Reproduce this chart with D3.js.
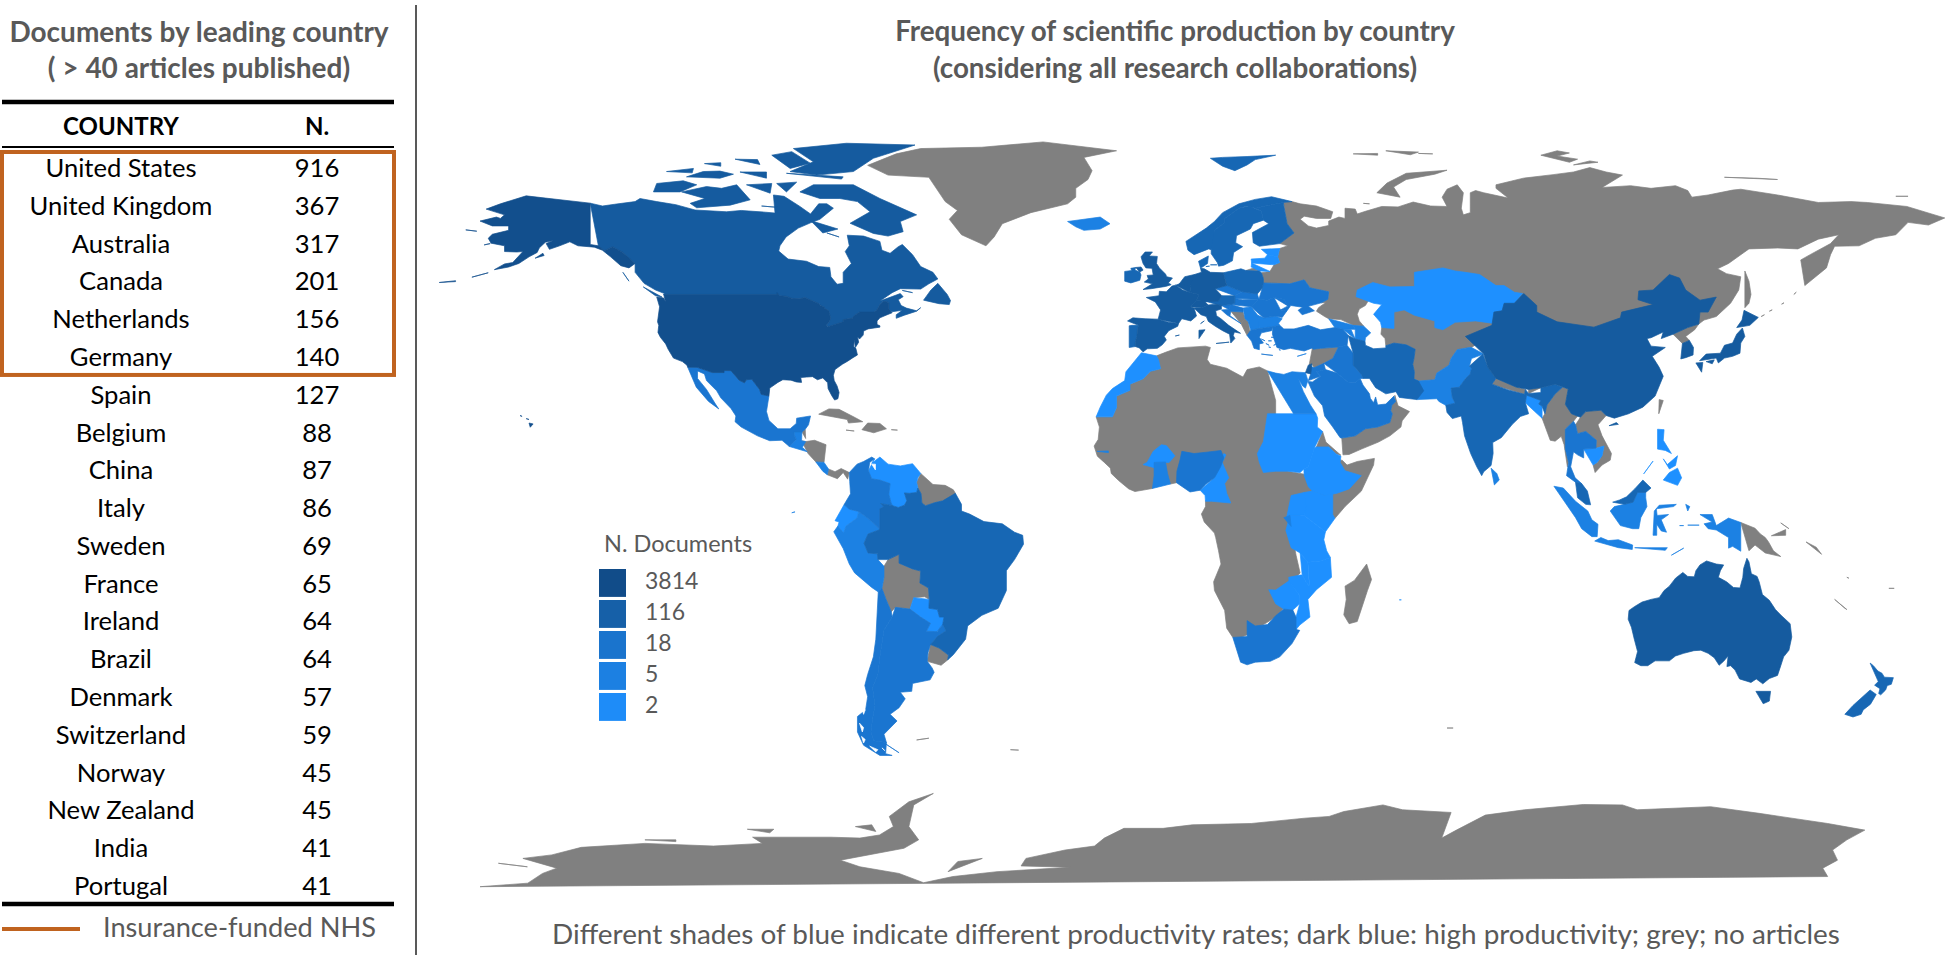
<!DOCTYPE html>
<html>
<head>
<meta charset="utf-8">
<script src="https://cdn.jsdelivr.net/npm/d3@7"></script>
<style>
  body { margin: 0; background: #fff; }
  text { font-family: Lato, "Open Sans", sans-serif; }
</style>
</head>
<body>
<div id="plot"></div>
<script>
// table on the left
const tableCountries = ["United States", "United Kingdom", "Australia", "Canada", "Netherlands", "Germany", "Spain", "Belgium", "China", "Italy", "Sweden", "France", "Ireland", "Brazil", "Denmark", "Switzerland", "Norway", "New Zealand", "India", "Portugal"];
const tableCounts = [916, 367, 317, 201, 156, 140, 127, 88, 87, 86, 69, 65, 64, 64, 57, 59, 45, 45, 41, 41];
const insuranceFundedRows = 6;

// map legend
const legendLabels = ["3814", "116", "18", "5", "2"];
const legendColors = ["#114c89", "#1660a8", "#1a74cd", "#1c80e2", "#1e8cf8"];

// fill of each land group, darkest first
const shadeColors = ["#124f8d", "#155b9f", "#1767b4", "#1a75d0", "#1c81e3", "#1e90ff"];
const noArticles = "#808080";

// outlines below are [lon, lat]
// grey land, no articles
const greyLand = [
  // Russia, Belarus, Central Asia, Mongolia, Afghanistan
  [[28.9,69.8],[31,70],[33,69.5],[37,69],[41,67.7],[40.5,66.2],[37,66.2],[34,66.7],[33,66],[35,64.5],[37,64],[40,64.6],[40,65.6],[42.5,66.5],[44,66.2],[44,68.5],[46.5,68.3],[47,67.2],[49,67.8],[53,68.9],[57,68.8],[60.7,69.9],[65,69],[69,68.9],[67.8,71],[69,72.8],[71.5,73.8],[73,72],[72.5,68.5],[73,67],[74.7,67.5],[74.7,72],[76,72.5],[78,72],[84,70.8],[81,73],[81,73.8],[87.7,75.3],[95,76.1],[100,76.7],[104,77.7],[108,76.7],[112,76],[107,73.2],[114,73.6],[119,73],[125,73.6],[128,72.5],[129,71],[133,71.5],[139,72.6],[141,72.8],[150,71.5],[160,69.8],[168,70],[172,69.8],[181.7,68.9],[191,66.3],[187,64.7],[182,65.3],[179,62.5],[174,61.7],[170,60],[164,59.9],[163,58],[162,55],[156.7,51],[155.7,56.8],[158,58],[163,60.5],[165,62.5],[160,61.5],[155,59.3],[150,59.5],[143,59.3],[138,56],[135.3,54.8],[137.5,53.7],[141,53],[140.5,50],[138.5,47],[135,44],[132,43.2],[130.7,42.3],[125,44],[110,38],[90,38],[80,40],[75,37],[74.5,37],[71.5,36.5],[70,34.5],[69.5,33],[66.5,31.2],[66,29.7],[62,29.4],[60.9,29.8],[61,31.5],[60.6,33.2],[60.9,34.5],[61.2,36.6],[59,37.6],[56,38],[54,37.4],[53.8,39],[52.8,40],[53,41.5],[55,45],[55,47],[50,48],[49,46.5],[47.5,45.7],[47,44.5],[47.5,43],[48.6,41.8],[46,42],[43,43.3],[40,43.5],[39,44],[37,45.2],[37.5,46],[39.3,47.2],[38.2,47.1],[39.8,47.9],[40,49.6],[35.4,50.5],[34,52.3],[30.5,51.4],[24,51.6],[24,52.6],[23.5,53.9],[25.6,54.2],[26.6,55.7],[28,56.2],[27.5,57.5],[28,59.4],[30,60],[28,60.5],[31.5,62.9],[29.8,65],[29,69]],
  [[19.7,54.4],[22.8,54.4],[22,55.1],[20.5,55]],
  [[51.8,72],[54.3,74.2],[59,76.4],[69,77.1],[66,76.2],[59,75],[55.9,73.3],[57.5,71],[54,70.8]],
  [[48.5,69.6],[50,69.5],[49.2,69]],
  [[142,54.3],[143,52],[143.5,49],[143,47],[142,46],[142,50],[141.7,53]],
  [[46,80.8],[52,80.9],[52,80.5],[48,80.4]],
  [[54,81.5],[62,81.2],[60,80.6],[55,80.7]],
  [[62,80.9],[65.5,80.8],[63,80.6]],
  [[92,80.5],[96,81.5],[99,81],[96,80.3],[101,79.6],[99,78.9],[94,79.5]],
  [[100,78.3],[104,79.2],[106,78.9],[103,78.2]],
  [[137,75.5],[145,75.3],[150,75],[140,74]],
  [[179,71.2],[182,71.2],[181,70.8]],
  [[146,44],[146.8,44.4],[146.5,44]],
  [[148,45.2],[148.7,45.5],[148.4,45.1]],
  [[151,46.8],[151.6,47.1],[151.4,46.7]],
  [[154,49],[154.6,49.5],[154.4,49]],
  // Greenland
  [[-73,78.2],[-68,76],[-58,75.5],[-54,70],[-51,68],[-53,66],[-50,62.5],[-44,60],[-42,62],[-40,65],[-33,67.5],[-24,69.5],[-22,71],[-22,73],[-19,75],[-18,77],[-20,80],[-12,81.5],[-30,83.5],[-45,82.3],[-60,82],[-66,80.8],[-72,79]],
  // Central America and Caribbean
  [[-89.1,17.9],[-88.3,18.5],[-88.2,16.4],[-89.2,15.9]],
  [[-89.2,15.9],[-88.2,15.7],[-86,16],[-83.2,15],[-83.7,11],[-85.7,11.1],[-87.6,13],[-89,14.4]],
  [[-82.9,8.2],[-82.6,9.5],[-81,8.9],[-79.5,9.6],[-77.5,8.7],[-77.9,7.2],[-79,8.7],[-80.4,7.3],[-81.7,8]],
  [[-85,21.9],[-82.5,23.1],[-80,23],[-76,21.1],[-74.2,20.2],[-77.7,19.9],[-78,20.7],[-82,22.2]],
  [[-74.4,18.4],[-73,19.9],[-70,19.8],[-68.4,18.6],[-71.5,17.7],[-72.5,18.2]],
  [[-78.3,18.3],[-76.3,18.1],[-77,17.8]],
  [[-67.2,18.4],[-65.7,18.3],[-67.1,18]],
  // South America
  [[-60,8.5],[-57,6],[-54,5.8],[-52,4.8],[-51.5,4],[-52.9,2.2],[-54.6,2.3],[-56.5,1.9],[-58.8,1.2],[-59.7,1.8],[-59.9,3.9],[-60.7,5.2],[-61,6.5],[-60.7,7.5]],
  [[-68,-11],[-65.3,-9.8],[-65.3,-11.8],[-62,-13.1],[-60,-13.6],[-60.2,-16.3],[-58.1,-17.4],[-57.9,-20],[-59,-19.4],[-61.7,-19.6],[-62.6,-22.2],[-64.3,-22],[-66.2,-21.8],[-67.2,-22.8],[-68.5,-20],[-69.5,-17.5],[-69,-15],[-69,-12.5],[-70.5,-11]],
  [[-57.6,-30.2],[-55.5,-31],[-53.2,-32.6],[-53.4,-33.7],[-55,-34.9],[-58.4,-34],[-58.2,-32]],
  [[-61,-51.8],[-58,-51.4],[-59,-52.3]],
  [[-38,-54],[-36,-54.1],[-37,-54.6]],
  // Africa except the shaded countries, which lie on top of it
  [[-2.2,35.1],[0,35.9],[3,36.9],[9.8,37.3],[11,37],[10.2,34.3],[11,33.2],[15,32.3],[19,30.3],[20,32],[23,32.6],[25,31.7],[27,25],[27,12],[30,9],[36,8],[38,10],[42.8,11.5],[43.3,11.5],[44.5,10.4],[47,11.2],[51.2,11.9],[51,10.4],[48,4.5],[44,1],[41.5,-1.7],[38,1],[35,1],[33,-1],[31,-5],[32,-10],[33,-14],[30,-17],[30,-21],[27,-24],[20,-28],[17.5,-29],[16.5,-28.6],[15,-26.5],[14.5,-22.5],[12,-18],[11.8,-16],[13.6,-12],[13,-9],[12.3,-6],[12,-5],[9.5,-2.5],[8.8,-0.7],[9.8,1],[9.8,2.2],[11,4],[13,8],[9,8],[4.4,6.8],[2.7,6.4],[1.2,6.1],[-1,7],[-3.2,5.1],[-7.5,4.4],[-9,5],[-11.5,6.9],[-13.3,8.5],[-13.5,9.7],[-15,11],[-16.7,12.4],[-17.5,14.7],[-16.5,16.2],[-16.2,19],[-17,21.3],[-13,21.3],[-12,23.4],[-12,26],[-8.7,27.3],[-8.7,28.7],[-5.5,29.9],[-3.7,31.6],[-1.2,32.2],[-1.7,34.2]],
  [[38.5,18],[39.3,15.6],[43,12.6],[41.8,12.9],[40,14.5],[37,14.5],[36.5,14.3]],
  [[49.3,-12],[50.5,-15.5],[49.5,-18],[47,-25],[45,-25.5],[43.7,-23.5],[44.3,-20],[44,-17],[46.3,-15.7],[48,-13.5]],
  [[69,-49.1],[70.5,-49.1],[69.8,-49.7]],
  [[31,-26],[32,-26],[32,-27],[31,-27.2]],
  // Middle East
  [[36,36.9],[38,36.8],[42.4,37.1],[41,34.5],[38.8,33.4],[36.4,32.4],[35.9,33.3],[35.2,33],[35.9,35]],
  [[43.2,16.5],[46.5,17],[49,18.6],[52,19],[55,20],[55.6,22],[55.2,22.7],[55.5,24],[56.4,24.7],[56.2,26.2],[57,23.8],[59.8,22.5],[58,20.4],[57.7,19],[55,17],[52.2,15.6],[48,14],[45,12.8],[43.5,12.7],[43,14.5]],
  // Balkans
  [[16,45.2],[19,45],[19.5,43.5],[18.5,42.4],[15.8,44.2]],
  [[18.5,42.4],[19.5,43.5],[20.3,42.8],[20.6,41],[20.9,40.3],[20,39.7],[19.4,41.5]],
  // South and East Asia
  [[80,28.7],[81,30],[86,28],[88.2,27.5],[88,26.4],[84,27.4]],
  [[89,26.6],[89,27.5],[92,27.9],[92,26.8]],
  [[92.3,21],[93,22],[93.5,24],[95.5,26.5],[97.3,28],[98.7,27.6],[98,24.1],[99.5,22],[101,21.5],[100,20.3],[98,18.5],[98.9,16.5],[98,14],[98.8,11],[98.5,10],[97.7,15],[97,16.9],[95.5,15.8],[94.3,16],[94.5,18.5]],
  [[101.7,21.2],[103,22.5],[106.7,22.8],[108,21.6],[106,19.5],[107,17],[109.3,13],[109,11.5],[107,10.4],[105.3,8.7],[104.8,10.4],[105.8,11],[107,12.5],[107.5,14.7],[105.5,14.2],[105.6,16],[103,18],[101,17.5],[100.5,19.5],[101,21.5]],
  [[124.4,40],[128,41.5],[130.7,42.3],[129.7,41],[127.5,39.5],[128.4,38.6],[126.7,37.9],[125,38]],
  [[121,25.2],[122,25],[120.9,22],[120.1,23]],
  [[141,-2.6],[144.5,-3.9],[145.8,-5.2],[147,-6],[147.8,-7],[149,-9],[150.8,-10.3],[147,-9.5],[144.5,-7.7],[143,-9],[141,-9.1]],
  [[148.5,-5.6],[152,-4.2],[152,-5.5],[150,-6.2]],
  [[150.8,-2.7],[152.8,-4],[152.5,-4.5]],
  [[157,-7],[159.5,-8.2],[160.8,-9.8],[158,-8]],
  [[164,-20],[167,-22.3],[166.5,-22],[164.2,-20.5]],
  [[177.3,-17.5],[178.6,-17.5],[178,-18.2]],
  [[167,-15],[167.5,-15.2],[167.2,-16.2]],
  // Antarctica, cut off at the bottom of the map
  [[-168,-85],[-156.3,-84.2],[-152.7,-82],[-149.2,-80.8],[-157.5,-78.6],[-150.4,-77.8],[-143.2,-76.1],[-127.6,-75.2],[-110.8,-75.8],[-98.8,-75.2],[-101.2,-73.8],[-82,-73.8],[-74.9,-74],[-70.1,-73.3],[-66.7,-71.4],[-67.7,-69.1],[-62.9,-65.8],[-56.9,-63.9],[-61.7,-66.5],[-62.9,-71.4],[-60.5,-74.4],[-64.1,-76.3],[-79.7,-79],[-74.9,-80.5],[-65.3,-82],[-59.3,-84.1],[-52.1,-82.7],[-41.3,-81.6],[-23.4,-80.6],[-35.4,-80.3],[-34.2,-78.6],[-24.6,-76.7],[-17.4,-75.8],[-15,-74],[-10.2,-71.8],[-0.6,-71.8],[6.6,-71],[21,-70.7],[34.1,-69.5],[40.1,-69.1],[43.7,-68],[53.3,-66.5],[58.1,-67.6],[70,-68.2],[67.7,-74],[71.3,-72.2],[78.4,-68.8],[88,-67.6],[102.4,-66.4],[112,-66.5],[115.6,-67.6],[133.6,-66.9],[145.5,-68.4],[162.3,-70.7],[171.4,-72.2],[167,-74.4],[163.5,-76.7],[164.7,-79],[161.1,-80.8],[162.3,-82.7],[180,-85]],
  [[-53.3,-81.6],[-50.9,-79.3],[-44.9,-78.6],[-42.5,-80.5]],
  [[-163.5,-79.7],[-156.4,-80.5],[-160,-80.7]],
  [[-76,-71.4],[-72,-71],[-71,-72.5],[-74,-72.5]],
  [[-102.5,-72],[-96,-72],[-97,-72.8],[-102,-72.6]],
  [[-127.6,-74.4],[-120,-74.4],[-120,-74.8],[-126,-74.9]]
];

// shade 0: United States (lower 48, Alaska, Hawaii)
const shade0 = [
  [[-123,49],[-95.2,49],[-95.2,49.4],[-94.6,48.7],[-93,48.6],[-91.5,48.1],[-89.6,48],[-88.4,48.3],[-84.9,46.9],[-84.5,46.5],[-83.6,46.1],[-83.5,45.8],[-82.5,45.3],[-82.1,43.6],[-82.5,42.7],[-83.1,42.1],[-82.7,41.7],[-81,42.2],[-79,42.8],[-79,43.3],[-76.8,43.6],[-76.3,44.2],[-75,45],[-71.5,45],[-70.8,45.4],[-70.3,46.2],[-70,46.7],[-69.2,47.45],[-68.3,47.35],[-67.8,47.07],[-67.8,45.7],[-67.4,45.3],[-67,44.85],[-68.5,44.3],[-70,43.7],[-70.7,43],[-70.7,42.2],[-70,41.9],[-70,41.6],[-71.4,41.4],[-72.9,41.2],[-74,40.7],[-74.1,39.8],[-75,38.9],[-75.5,39.4],[-75.2,38.2],[-76,37],[-76.3,38.8],[-76.4,37.2],[-75.9,36.8],[-75.5,35.3],[-76.6,34.7],[-77.9,33.9],[-79.2,33.2],[-81,32],[-81.4,30.7],[-81.2,29.5],[-80.5,28.3],[-80,26.8],[-80.3,25.4],[-81.1,25.1],[-81.8,26.1],[-82.7,27.7],[-82.8,29],[-84,30.1],[-85.3,29.7],[-86.5,30.4],[-88,30.3],[-89.4,30.2],[-89.2,29.1],[-90.5,29.2],[-91.8,29.6],[-93.8,29.7],[-95,29.1],[-97,27.8],[-97.2,26],[-99.1,26.4],[-99.5,27.5],[-101.4,29.8],[-102.7,29.7],[-103.2,29],[-104.5,29.6],[-106.5,31.75],[-108.2,31.78],[-108.2,31.33],[-111.1,31.33],[-114.8,32.5],[-117.1,32.53],[-117.3,33],[-118.4,33.8],[-120.6,34.6],[-121.9,36.6],[-122.5,37.8],[-123.8,39.3],[-124.4,40.4],[-124.2,42],[-124.5,42.8],[-124,46.2],[-124.7,48.4],[-123,48.2],[-122.5,47.3],[-122.8,49]],
  [[-141,69.65],[-141,60.3],[-139,60],[-137.5,58.9],[-135.5,59.8],[-133,58.5],[-130,56],[-131.5,55],[-133.5,55.5],[-136,57.5],[-138,59],[-140,59.7],[-144,60],[-146,60.9],[-148.5,60],[-151,59.2],[-151.8,60.5],[-150,61.2],[-152,60.8],[-153.5,59.5],[-154,58.5],[-156,57.5],[-158.5,56],[-161,55.2],[-164.5,54.6],[-162,55.9],[-160,56.2],[-157.5,58.7],[-159,58.6],[-162,58.7],[-162,60],[-165.3,60.6],[-166,61.7],[-165,62.6],[-161,63.5],[-161,64.5],[-165,64.5],[-168,65.6],[-164,66.5],[-163,66.2],[-162,67],[-166.5,68.3],[-163,69.5],[-156.7,71.3],[-152,70.8],[-148,70.4]],
  [[-154.5,57.2],[-152.3,57.8],[-152.6,58.3],[-154,57.7]],
  [[-167,60.2],[-165.5,60.5],[-166,59.8]],
  [[-171.5,63.6],[-168.8,63.3],[-170,63.8]],
  [[-170,52.9],[-168,53.4],[-166,53.9],[-166.5,53.4]],
  [[-178,51.7],[-174,52.1],[-174,51.9],[-177.5,51.5]],
  [[-156,19.9],[-155,19.7],[-155.7,18.95],[-156,19.3]],
  [[-156.7,20.9],[-156,20.7],[-156.4,20.6]],
  [[-158.2,21.6],[-157.7,21.4],[-158.1,21.3]]
];

// shade 1: Canada, China, Australia, Japan, S. Korea, W. Europe
const shade1 = [
  // Canada mainland
  [[-141,69.65],[-138,69],[-135,69.4],[-130,70],[-128.8,70.7],[-124.7,70],[-120,69.3],[-115.3,68.1],[-107.6,67.7],[-104,68],[-98,67.6],[-95.7,67.4],[-96.1,71.5],[-93.5,71.2],[-89.6,68.9],[-87,67.2],[-85,69.5],[-83,69.5],[-81.4,68.5],[-84.7,66],[-87,65.2],[-90,64],[-93,62],[-94.5,60],[-94.8,58.8],[-92.5,57],[-88,56.5],[-85,55.3],[-82.3,55.1],[-82,53],[-80.5,51.3],[-79,51.5],[-79,54],[-77,56],[-78.5,58.7],[-77.5,60],[-78,62.4],[-74,62.2],[-70,61],[-69.5,59],[-67.5,58.3],[-65.5,59.8],[-64.5,60.3],[-62,58],[-60,55.3],[-57,54],[-55.8,52.5],[-58,51.4],[-60,50.2],[-65,50.3],[-67,49.4],[-70,47.5],[-65,49.2],[-64.3,48.5],[-65.5,47.8],[-64.8,46.5],[-63.5,45.9],[-61,45.3],[-60,46],[-61,45.2],[-64,44.3],[-66,43.6],[-66,44.4],[-64.5,45.4],[-67,45.1],[-67.4,45.3],[-67.8,45.7],[-67.8,47.07],[-68.3,47.35],[-69.2,47.45],[-70,46.7],[-70.3,46.2],[-70.8,45.4],[-71.5,45],[-75,45],[-76.3,44.2],[-76.8,43.6],[-79,43.3],[-79,42.8],[-81,42.2],[-82.7,41.7],[-83.1,42.1],[-82.5,42.7],[-82.1,43.6],[-82.5,45.3],[-83.5,45.8],[-83.6,46.1],[-84.5,46.5],[-84.9,46.9],[-88.4,48.3],[-89.6,48],[-91.5,48.1],[-93,48.6],[-94.6,48.7],[-95.2,49.4],[-95.2,49],[-123,49],[-122.8,49.2],[-125,50],[-127.8,51.5],[-130,54],[-130,56],[-133,58.5],[-135.5,59.8],[-137.5,58.9],[-139,60],[-141,60.3]],
  // Canadian Arctic islands and coast islands
  [[-89.6,72.2],[-86.3,73.8],[-76.5,73.8],[-70,70.7],[-61,67],[-65,65.5],[-64.3,63.2],[-68,62.2],[-71.6,62.8],[-77.3,65.1],[-72.4,67.7],[-75.5,70],[-79.8,70.7],[-84.7,70.7],[-85,71.5]],
  [[-118.6,72.2],[-112.5,73.4],[-108.8,73],[-105.1,73.8],[-101.8,70.4],[-106.7,69.2],[-114.9,68.6],[-116.5,69.6],[-112.9,70.7],[-118.2,70.9]],
  [[-125.5,72.2],[-124.7,74.1],[-118.2,74.7],[-114.9,73.8],[-119,72.2],[-123,71.6]],
  [[-91.2,82],[-78.2,83.2],[-61.4,82.8],[-71.6,79.8],[-76.5,76.8],[-85.5,76],[-92,76.8],[-86.3,79],[-90.4,80.9]],
  [[-92.9,76.4],[-79,75.6],[-79.4,75.1],[-92.9,74.9]],
  [[-96.5,80.5],[-91.6,81.3],[-87.1,78.7],[-92,77.5],[-96.1,78.3]],
  [[-117.4,75.6],[-113.3,76.8],[-109.2,76.9],[-105.9,76.2],[-109.2,75.3],[-114.1,75]],
  [[-122.3,76.8],[-115.7,77.5],[-116,76.5],[-119,76.2]],
  [[-104.3,76.7],[-97.8,76.7],[-97.8,75.3],[-103,75.3]],
  [[-102.7,73.8],[-96.5,74.1],[-96.9,71.9],[-100.2,71.9]],
  [[-95.3,74.1],[-90.4,74.4],[-92.9,72.2],[-95.7,72.2]],
  [[-113,78.6],[-109,78.8],[-109,78],[-112,78]],
  [[-105.5,79.6],[-100,79.5],[-99.4,78.4],[-103,78.2]],
  [[-99,69],[-95,68.7],[-95.5,69.8]],
  [[-87,65.7],[-84,62.9],[-80.3,63.8],[-85,66.2]],
  [[-83,62.9],[-80,62],[-82,62.5]],
  [[-59.3,47.7],[-55.5,46.9],[-53,46.7],[-52.7,47.6],[-53.5,49],[-55.8,51.5],[-57.5,50],[-59,48.5]],
  [[-128,50.7],[-125,48.7],[-123.4,48.4],[-125,50]],
  [[-133,54],[-131.5,52],[-132,54]],
  [[-64.5,49.9],[-62,49.4],[-63,49.2]],
  // China
  [[73.5,39.5],[80,42],[80.5,45],[82.5,45.3],[83,47],[85.5,47],[87.8,49.2],[91,46.5],[91,45],[96,42.8],[105,41.6],[111.5,43.7],[111.8,45],[119.5,46.7],[115.8,47.8],[116,49.8],[119.5,50],[123.5,53.5],[126,52.7],[127.5,50],[131,47.7],[135,48.4],[133,45],[131,45],[130.7,42.3],[128,41.5],[124.4,40],[121.5,39],[122,40.5],[119,39.2],[118,39],[119,37.3],[122.5,37],[119.3,35],[121,32.5],[122,30.5],[120,26],[117,23.5],[113.5,22],[110,21],[108,21.6],[106.7,22.8],[103,22.5],[101.7,21.2],[99.5,22],[98,24.1],[98.7,27.6],[95.5,28.7],[92,27.9],[89,27.5],[86,28],[81,30],[79,32.5],[78,35.5],[75,37]],
  [[108.7,19.3],[110.5,20],[111,19.6],[109.5,18.2]],
  // Japan
  [[130.9,34],[132.5,35.5],[136,35.7],[137,37.5],[139,38],[140,40],[141.4,41.4],[142,39.5],[141,38],[140.8,35.7],[139,35],[137,34.6],[135.5,33.5],[135,34.6],[132,33.9]],
  [[130,33.5],[131.7,33.6],[131.4,31.4],[130.3,31.2]],
  [[132.5,33.8],[134.5,34.2],[134,33.3],[132.9,32.8]],
  [[140,41.5],[141.3,43.2],[141.8,45.4],[145.3,43.8],[143.2,42],[141,42.4]],
  // South Korea
  [[126.7,37.9],[128.4,38.6],[129.4,37],[129.3,35.3],[127.5,34.7],[126.3,34.4],[126.6,37]],
  // Australia
  [[113.6,-22.5],[113.4,-24.5],[114.2,-26.3],[114.9,-29],[115.7,-31.8],[115,-34.3],[116.5,-35],[118.2,-35],[120,-33.9],[123.5,-33.9],[125,-32.8],[127,-32.2],[129.5,-31.6],[131.2,-31.5],[133,-32.2],[134.5,-33.2],[135.7,-34.9],[136.8,-34],[137.9,-32.8],[137.6,-35.2],[138.5,-35],[139.6,-36],[140.7,-38],[142.5,-38.5],[143.5,-38.8],[144.8,-38],[146.4,-39.1],[148,-37.9],[150,-37.2],[150.8,-35],[151.5,-33],[152.8,-31.5],[153.5,-28.5],[153.1,-25.5],[151,-23.7],[149.5,-22.3],[148,-20.2],[146.3,-18.9],[145.5,-16],[145,-14.8],[143.6,-14.2],[143,-11.5],[142.5,-10.7],[141.7,-13],[141.5,-15],[140.8,-17.4],[139.2,-17.3],[137.5,-16],[135.5,-15],[136,-13.5],[136.8,-12.2],[135,-12],[132.6,-11.3],[131,-12.2],[130,-13.5],[129.6,-14.9],[128,-14.8],[126.8,-13.9],[125,-15.2],[123.5,-17],[122.2,-18],[121,-19.6],[119,-20],[116.8,-20.6],[115,-21.6],[114.2,-22.4]],
  [[144.7,-40.8],[148.3,-40.8],[148,-43],[146.5,-43.6],[145.3,-42.5]],
  // United Kingdom
  [[-5.5,50.1],[-3.5,50.3],[0,50.8],[1.4,51.2],[0.7,51.6],[1.7,52.7],[0.3,53],[0,53.6],[-1.5,55],[-2.2,56],[-2,57.6],[-4,57.7],[-3.2,58.6],[-5,58.6],[-6,57.5],[-5.5,56],[-4.8,55],[-3.3,54.9],[-3,53.4],[-4.5,53.3],[-4.2,52.5],[-5.2,51.8],[-3.2,51.4],[-4.5,51]],
  [[-7.3,55.1],[-6,55.2],[-5.5,54.5],[-6.3,54.1],[-7.5,54.5]],
  // Spain, France, Belgium, Netherlands, Germany, Switzerland, Italy
  [[-9.3,43],[-8,43.7],[-5,43.5],[-1.8,43.4],[0.7,42.7],[3.2,42.4],[3,41.8],[0.8,40.8],[-0.3,39.5],[0.2,38.7],[-0.8,37.6],[-2,36.8],[-4.5,36.7],[-5.5,36],[-6.4,36.9],[-7.4,37.2],[-7.4,38.2],[-7,39.6],[-6.9,41],[-6.6,42],[-8.2,42]],
  [[2.4,39.6],[3.4,39.8],[3,39.3]],
  [[-1.8,43.4],[-1.2,45.5],[-2.5,47.3],[-4.7,48.3],[-1.6,48.7],[-1.5,49.7],[0.2,49.6],[1.6,50.9],[2.5,51.1],[4.2,50],[5.8,49.5],[8.2,49],[7.6,47.6],[6,46.2],[7,45.9],[7.6,44.1],[6.2,43],[4,43.5],[3.2,42.4],[0.7,42.7]],
  [[8.6,42.4],[9.5,43],[9.4,41.4]],
  [[2.5,51.1],[3.4,51.4],[5.8,51.3],[6,50.8],[6.1,50],[5.8,49.5],[4.2,50]],
  [[3.4,51.4],[4.7,53],[7.1,53.5],[7,52.2],[6,50.8],[5.8,51.3]],
  [[7.1,53.5],[8.8,54],[8.6,54.9],[9.5,54.8],[11,54],[14.2,53.9],[14.7,52],[15,51],[12.2,50.3],[13.8,48.7],[13,47.5],[10,47.4],[7.6,47.6],[8.2,49],[5.8,49.5],[6.1,50],[6,50.8],[7,52.2]],
  [[6,46.2],[7.6,47.6],[9.6,47.5],[10.4,46.6],[9,45.9],[7,45.9]],
  [[7,45.9],[9,45.9],[10.4,46.6],[12.3,46.8],[13.7,46.5],[13.7,45.7],[12.3,45.3],[12.5,44.2],[13.6,43.5],[15.5,42],[18.4,40.2],[16.9,40.5],[16.6,39.7],[17,39],[16,38],[15.7,40],[14,40.8],[12.2,41.8],[10.5,42.9],[10,44],[8.7,44.4],[7.6,44.1]],
  [[8.2,39],[8.2,40.9],[9.7,41],[9.6,39.1]],
  [[12.4,37.9],[15.6,38.2],[15,36.7]],
  // Israel
  [[34.3,31.3],[35,33],[35.9,33.3],[35.6,31],[35,29.5]]
];

// shade 2: Brazil, India, Iran, Nordics, Poland, Austria, Ireland, Portugal, Malaysia, New Zealand
const shade2 = [
  [[-51.5,4],[-50,1.5],[-50,0],[-48,-0.7],[-44.5,-2.4],[-40,-2.9],[-37,-4.8],[-35,-5.5],[-34.8,-7.5],[-37,-11],[-39,-13.5],[-39,-18],[-41,-22],[-45,-23.6],[-48.5,-26],[-49,-29],[-52,-32.5],[-53.4,-33.7],[-53.2,-32.6],[-55.5,-31],[-57.6,-30.2],[-55.8,-28.3],[-53.8,-27.1],[-54.6,-25.6],[-54.3,-24],[-55.4,-24],[-55.9,-22.3],[-58,-22],[-57.9,-20],[-58.1,-17.4],[-60.2,-16.3],[-60,-13.6],[-62,-13.1],[-65.3,-11.8],[-65.3,-9.8],[-68,-11],[-70.5,-11],[-70.6,-9.7],[-72.9,-9.5],[-73.9,-7.3],[-72.9,-5.2],[-70,-4.2],[-70,0.5],[-69.1,1],[-69.8,1.7],[-66.9,1.2],[-65.5,0.8],[-64,1.3],[-63.4,2.3],[-64,4.1],[-62.8,4],[-61,4.2],[-60.7,5.2],[-59.9,3.9],[-59.7,1.8],[-58.8,1.2],[-56.5,1.9],[-54.6,2.3],[-52.9,2.2]],
  [[77.8,35.5],[79,32.5],[81,30],[80,28.7],[84,27.4],[88,26.4],[88.2,27.5],[89,26.6],[92,26.8],[92,27.9],[95.5,28.7],[97.3,28],[95.5,26.5],[93.5,24],[93,22],[92.3,23.7],[91.5,24.2],[92,25],[88.5,26.2],[88.2,24.5],[89,22],[87,21.4],[85,19.6],[82.3,16.6],[80.2,15.5],[80.3,13],[79.8,10.3],[78,8.9],[77.5,8],[76.3,10],[74.8,13],[73.3,17],[72.8,20],[72.5,21.5],[70.3,20.9],[69,22.3],[68.7,23.9],[71,24.4],[70.3,25.7],[70,27.8],[72,28],[73.5,29.9],[74.7,31],[75,32.3],[74.5,32.8],[75,34.5]],
  [[44.8,39.7],[46.5,38.9],[48.9,38.4],[49,37.5],[51,36.7],[54,36.9],[54,37.4],[56,38],[59,37.6],[61.2,36.6],[60.9,34.5],[60.6,33.2],[61,31.5],[60.9,29.8],[62,29.4],[63.3,27.2],[61.6,25.2],[57.3,25.7],[56.5,27],[54,26.5],[51.5,27.9],[50,30],[48.5,30],[48,30.9],[46,33],[46,35.7],[44.5,37.5]],
  // Ireland, Portugal, Denmark
  [[-10,52],[-8.5,51.6],[-6.3,52.2],[-6,53.4],[-6.3,54.1],[-7.5,54.5],[-7.3,55.1],[-8.5,54.9],[-8.3,54.4],[-10,54.2],[-9.5,53.2]],
  [[-8.9,41.9],[-8.2,42],[-6.6,42],[-6.9,41],[-7,39.6],[-7.4,38.2],[-7.4,37.2],[-8.9,37],[-9.5,38.7]],
  [[8.6,54.9],[8.1,56.5],[10.5,57.7],[10.3,56],[9.5,54.8]],
  [[11,55.7],[12.6,55.7],[12,54.8]],
  [[9.9,55.3],[10.8,55.4],[10.5,55]],
  // Norway with Svalbard, Sweden, Finland
  [[5,61],[5.5,59],[7,58],[10.6,59.3],[11.2,59.1],[12.3,61],[12,63.5],[14.5,65.2],[14.5,66.2],[18,68.5],[20,69],[22,68.5],[25,69.1],[28.9,69.8],[31,70],[26,71.1],[22,70.5],[18,69.5],[14,67.5],[12,65.5],[10,64],[6,62.5]],
  [[11,79.8],[14,80],[20,80.2],[27,80.5],[22,79.5],[20,78.3],[17,77],[14,78],[12,79]],
  [[11.2,59.1],[11.2,58.2],[12.7,56.2],[13,55.4],[14.3,55.6],[16.4,56.6],[16.7,58.5],[18.9,59.8],[17.2,60.7],[17.4,62.3],[20.8,63.8],[21.5,65],[24,65.8],[23.5,67.8],[20.5,69],[18,68.5],[14.5,66.2],[14.5,65.2],[12,63.5],[12.3,61]],
  [[23.5,67.8],[24,65.8],[25.3,65],[21.3,63],[21.5,60.7],[23,59.9],[28,60.5],[31.5,62.9],[29.8,65],[29,69],[28.9,69.8],[25,69.1],[22,68.5],[20.5,69]],
  // Poland, Austria
  [[14.2,53.9],[18.5,54.8],[19.7,54.4],[23,54.3],[23.5,53.9],[24,52.6],[24,51.6],[23.7,50.4],[22.5,49.1],[18.8,49.6],[15,51],[14.7,52]],
  [[9.6,47.5],[13,47.5],[13.8,48.7],[17,48.7],[17,47],[16,46.7],[13.7,46.5],[12.3,46.8],[10.4,46.6]],
  // Malaysia
  [[100.5,6.5],[102,6.2],[103.4,4.5],[104.2,1.4],[103,1.5],[101,3],[100.3,5.5]],
  [[109.6,2],[111.3,2.5],[113,3.2],[115,5],[117,7],[119,5.2],[117.7,4.2],[115.7,4.2],[114.6,2],[112.5,1.5],[110,1]],
  // New Zealand
  [[172.7,-34.4],[173.5,-35],[174.6,-36.2],[175.6,-36.7],[176.2,-37.6],[178.4,-37.7],[177.9,-39.2],[176.9,-39.5],[176.5,-40.5],[175.3,-41.6],[174.8,-41.3],[175.1,-40.2],[173.8,-39.4],[174.7,-38.6],[174.8,-37.2]],
  [[172.7,-40.5],[174.2,-41.5],[172.8,-43.7],[171,-45],[170.5,-46],[168.5,-46.6],[166.5,-46],[168.5,-44],[171.2,-42]]
];

// shade 3: Mexico, Colombia, Argentina, Chile, Saudi Arabia, Turkey, E. Europe, South Africa, Nigeria, Thailand
const shade3 = [
  [[-117.1,32.53],[-114.8,32.5],[-111.1,31.33],[-108.2,31.33],[-108.2,31.78],[-106.5,31.75],[-104.5,29.6],[-103.2,29],[-102.7,29.7],[-101.4,29.8],[-99.5,27.5],[-99.1,26.4],[-97.2,26],[-97.8,22.5],[-97.2,20.5],[-95,18.6],[-92,18.6],[-90.5,19.8],[-90.4,21],[-87,21.5],[-87.5,19.5],[-88.3,18.5],[-89.1,17.9],[-91,17.9],[-91,17.2],[-90.5,16.2],[-92.2,14.6],[-94,16],[-97,15.9],[-100,17],[-104,19],[-105.5,20.2],[-105.3,21.5],[-106.5,23.2],[-109,25.6],[-110,27.2],[-112.5,29.5],[-113,31],[-114.7,31.7],[-114.7,30],[-112.5,27.5],[-110.3,24.2],[-109.5,23.1],[-112,24.8],[-115,28],[-116,30.5]],
  // Colombia
  [[-77.5,8.7],[-75.6,10.6],[-74,11.2],[-72,12.2],[-71.3,11.8],[-72.5,11],[-72.8,9.1],[-72,7.3],[-70,7],[-67.5,6.2],[-67.8,3.8],[-67.3,2],[-66.9,1.2],[-69.8,1.7],[-69.1,1],[-70,0.5],[-70,-4.2],[-72,-2.4],[-73.6,-1.2],[-75.2,-0.1],[-77.5,0.4],[-78.8,1.4],[-77.2,3.9],[-77.4,6.7],[-77.9,7.2]],
  // Argentina, Tierra del Fuego, Chile
  [[-66.2,-21.8],[-64.3,-22],[-62.6,-22.2],[-60,-24],[-57.6,-25.4],[-58.6,-27.2],[-56,-27.3],[-54.6,-25.6],[-53.8,-27.1],[-55.8,-28.3],[-57.6,-30.2],[-58.2,-32],[-58.4,-34],[-57.2,-35.5],[-56.7,-36.5],[-57.7,-38.2],[-62,-39],[-62.2,-40.8],[-65,-41],[-63.8,-42.5],[-65.3,-44.5],[-67.5,-46],[-65.8,-47.5],[-69,-50.5],[-68.4,-52.4],[-71.5,-52],[-72.2,-50],[-71.8,-47],[-71.2,-44],[-71.8,-40],[-70.5,-37],[-70,-33],[-69,-27],[-67,-24],[-67.2,-22.8]],
  [[-68.6,-52.7],[-65.3,-54.7],[-68.6,-54.9]],
  [[-70.4,-18.3],[-69.5,-17.5],[-68.5,-20],[-67.2,-22.8],[-67,-24],[-69,-27],[-70,-33],[-70.5,-37],[-71.8,-40],[-71.2,-44],[-71.8,-47],[-72.2,-50],[-71.5,-52],[-68.4,-52.4],[-68.6,-54.9],[-67,-55.3],[-70,-55.3],[-74,-53],[-75.5,-50],[-75.5,-46.5],[-73.5,-45],[-73,-42],[-73.7,-39.5],[-73,-37],[-71.6,-33],[-71,-29],[-70.4,-23]],
  // Czechia, Slovakia, Slovenia, Hungary, Croatia, Romania, Moldova, Greece, Ukraine
  [[12.2,50.3],[15,51],[18.8,49.6],[17,48.7],[13.8,48.7]],
  [[17,48.1],[17,48.7],[18.8,49.6],[22.5,49.1],[22.9,47.9],[18.8,47.8]],
  [[13.7,46.5],[16,46.7],[15.5,45.6],[13.7,45.5]],
  [[16,46.7],[17,47],[17,48.1],[18.8,47.8],[22.9,47.9],[21,46.2],[19,45.9]],
  [[13.7,45.5],[15.5,45.6],[16,46.7],[19,45.9],[19,45],[16,45.2],[15.8,44.2],[18.5,42.4],[15,44.4],[14.3,45.3]],
  [[21,46.2],[22.9,47.9],[24.9,47.7],[26.6,48.3],[28.2,45.5],[29.7,45.2],[28.6,43.8],[27,44.1],[24,43.7],[22.6,44.3]],
  [[26.6,48.3],[29,47.9],[30,46.4],[28.2,45.5]],
  [[20,39.7],[20.9,40.9],[23,41.3],[24,41.4],[26.3,41.7],[26,40.8],[23.5,40.3],[23,39.3],[24,38],[23,37.8],[23,36.5],[21.7,36.8],[21.1,38.4],[20.2,39.5]],
  [[23.5,35.5],[26.3,35.2],[24.5,34.9]],
  // Aegean islands
  [[25.9,39.3],[26.6,39.3],[26.2,39]],
  [[25.2,38.5],[26,38.5],[25.9,38.2]],
  [[24.6,37.9],[25.4,37.5],[24.9,37.4]],
  [[25.3,37.1],[25.8,37],[25.5,36.7]],
  [[26.5,37.5],[27,37.7],[26.9,37.3]],
  [[27.8,36.5],[28.2,36.4],[27.9,36]],
  [[23.5,38.9],[24.4,38.5],[24.1,38.2]],
  [[23.7,50.4],[24,51.6],[30.5,51.4],[34,52.3],[35.4,50.5],[40,49.6],[39.8,47.9],[38.2,47.1],[35,46.3],[36.5,45.3],[33.5,44.4],[32.5,45.4],[33.6,46.1],[30.7,46.5],[29.7,45.2],[28.2,45.5],[30,46.4],[29,47.9],[26.6,48.3],[24.9,47.7],[22.9,47.9],[22.5,49.1]],
  // Turkey
  [[26.2,40],[26.3,41.7],[28,42],[29,41.2],[31.5,41.2],[35,42],[38,41],[41.5,41.5],[43.5,41.1],[44.8,39.7],[44.5,37.5],[42.4,37.1],[38,36.8],[36.2,36.6],[36,36.9],[34,36.2],[30.6,36.8],[29,36.5],[27.3,37],[26.3,38.3]],
  // Jordan, Iraq, Saudi Arabia and the Gulf
  [[35,29.5],[35.6,31],[35.7,32.7],[36.4,32.4],[38.8,33.4],[39.2,32],[37,31.5],[38,30.5],[36,29.2]],
  [[38.8,33.4],[41,34.5],[42.4,37.1],[44.5,37.5],[46,35.7],[46,33],[48,30.9],[48.5,30],[47.7,30],[46.5,29.1],[44.7,29.2],[42,31.2],[39.2,32]],
  [[34.9,29.3],[36,29.2],[38,30.5],[37,31.5],[39.2,32],[42,31.2],[44.7,29.2],[46.5,29.1],[47.7,30],[48.4,28.5],[50,26.5],[50.2,25.5],[51,24.5],[51.5,25.8],[52,24],[54,24.2],[56,26],[56.4,24.7],[55.5,24],[55.2,22.7],[55.6,22],[55,20],[52,19],[49,18.6],[46.5,17],[43.2,16.5],[42.8,16.6],[41,19],[39,21.5],[38.5,23.8],[36.5,26],[35,28]],
  // South Africa, Nigeria, Thailand
  [[16.5,-28.6],[20,-28.4],[20,-24.8],[22,-26],[25,-25.7],[27,-23.7],[29,-22.2],[31.2,-22.4],[32,-24],[32,-26.8],[32.9,-27],[31,-30],[28,-33],[25.7,-34],[22,-34.2],[20,-34.8],[18.4,-34.2],[18,-32]],
  [[2.7,6.4],[2.8,9],[3.6,11.7],[4,13.5],[7,13],[10,13.3],[13.6,13.7],[14.3,12],[13.5,10],[12,7.5],[9.8,6],[8.5,4.7],[6,4.3],[4.4,6.3]],
  [[98,18.5],[100,20.3],[100.5,19.5],[101,17.5],[103,18],[105.6,16],[105.5,14.2],[102.5,14],[102.5,12],[101,12.7],[100,13.4],[99.3,10],[100.4,7.5],[102,6.2],[100.5,6.5],[98.3,8],[98.8,11],[98,14],[98.9,16.5]]
];

// shade 4: Guatemala, Costa Rica, Peru, Iceland, Egypt, Pakistan, Indonesia and others
const shade4 = [
  [[-92.2,14.6],[-90.5,16.2],[-91,17.2],[-91,17.9],[-89.1,17.9],[-89.2,15.9],[-88.2,15.7],[-89,14.4],[-87.8,13.4],[-90,13.7]],
  [[-85.7,11.1],[-83.7,11],[-82.6,9.5],[-82.9,8.2],[-84,9],[-85.8,9.9]],
  [[-81.3,-4.7],[-80.3,-3.4],[-78.9,-5],[-78.3,-3.4],[-75.6,-1.6],[-75.2,-0.1],[-73.6,-1.2],[-72,-2.4],[-70,-4.2],[-72.9,-5.2],[-73.9,-7.3],[-72.9,-9.5],[-70.6,-9.7],[-70.5,-11],[-69,-12.5],[-69,-15],[-69.5,-17.5],[-70.4,-18.3],[-72,-17.3],[-76.2,-14],[-77.5,-12],[-79,-8.5],[-81,-6]],
  [[-91.6,-0.4],[-90.8,-0.2],[-91.2,-1]],
  [[-24,65.5],[-22,64.3],[-20,63.5],[-16,63.8],[-13.6,65],[-16,66.5],[-21,65.7]],
  // Serbia, Bulgaria, Georgia, Armenia, Azerbaijan, Cyprus
  [[19,45.9],[21,46.2],[22.6,44.3],[23,43],[23,41.3],[20.9,40.9],[20.3,42.8],[19.5,43.5],[19,45]],
  [[22.6,44.3],[24,43.7],[27,44.1],[28.6,43.5],[27.7,42.5],[28,42],[26.3,41.7],[24,41.4],[23,41.3],[23,43]],
  [[40,43.5],[41.5,41.5],[43.5,41.1],[46.5,41.1],[46,42],[43,43.3]],
  [[43.5,41.1],[45.5,41],[46.5,38.9],[44.8,39.7]],
  [[46.5,41.1],[46,42],[48.6,41.8],[50.3,40.3],[49,39.2],[48.9,38.4],[46.5,38.9],[45.5,41]],
  [[32.3,35],[34.5,35.6],[33.5,34.7]],
  // Egypt, Ghana, Gambia, Rwanda and Burundi
  [[25,31.7],[27,31.2],[29,30.9],[31,31.5],[34.3,31.3],[34.9,29.5],[34.3,27.8],[33.6,28.3],[32.6,29.9],[33.8,27],[35.5,24],[36.9,22],[31.4,22],[25,22]],
  [[-3.2,5.1],[-2.8,8],[-2.8,11],[0,11.1],[0.5,8.5],[1.2,6.1],[-1,5.1]],
  [[-16.8,13.5],[-14,13.6],[-14,13.2],[-16.8,13.1]],
  [[29,-1.5],[30.5,-1],[30.8,-3.5],[29.5,-4.4]],
  // Pakistan, Sri Lanka
  [[60.9,29.8],[62,29.4],[66,29.7],[66.5,31.2],[69.5,33],[70,34.5],[71.5,36.5],[74.5,37],[75,37],[78,35.5],[75,34.5],[74.5,32.8],[75,32.3],[74.7,31],[73.5,29.9],[72,28],[70,27.8],[70.3,25.7],[71,24.4],[68.7,23.9],[67,24.8],[66.5,25.4],[61.6,25.2],[63.3,27.2]],
  [[79.8,9.7],[81.2,8.5],[81.8,7],[80.6,5.9],[79.9,6.9]],
  // Indonesia
  [[109,0],[110,1],[112.5,1.5],[114.6,2],[115.7,4.2],[117.7,4.2],[117.7,3],[118,1],[116.5,-1.5],[116,-4],[114.5,-4],[111.5,-3.3],[110,-1.5]],
  [[95.2,5.6],[97.5,5.2],[100.5,2.2],[103.5,0],[104.5,-2],[106,-3],[105.8,-5.8],[104.5,-5.8],[102,-4],[100.5,-1.5],[98.7,1.7]],
  [[105.2,-6.8],[106.7,-6],[108.5,-6.7],[111,-6.5],[114.5,-7.7],[114.4,-8.7],[111,-8.3],[108,-7.8]],
  [[119.5,-5.5],[120.4,-5.5],[120.4,-3],[121.5,-4.5],[122.8,-4.8],[121.5,-2],[123.3,-0.8],[120.5,-1],[120.3,0.5],[124.5,1],[125.2,1.5],[121,1.3],[119.8,0],[118.9,-3]],
  [[115,-8.3],[119,-8.3],[123,-8.3],[122.5,-8.9],[116,-8.9]],
  [[124,-10],[127,-8.4],[125,-9.2]],
  [[131,-0.8],[134,-0.8],[135,-3.3],[138,-1.6],[141,-2.6],[141,-9.1],[139,-8],[138,-8.4],[138,-6],[135,-4.3],[133,-4],[132,-2.9],[134,-2.5],[132,-2]],
  [[127.5,1.5],[128.5,1],[128,0],[127.8,0.8]],
  [[128,-3.2],[130.8,-3.2],[129.5,-3.4]],
  [[126,-3.3],[127,-3.3],[126.5,-3.6]]
];

// shade 5: Venezuela, Ecuador, Paraguay, Baltics, Kazakhstan, Morocco, East Africa, Bangladesh, Cambodia, Philippines
const shade5 = [
  [[-71.3,11.8],[-72,10.8],[-70,12.2],[-68,10.6],[-65,10.2],[-62,10.7],[-60.8,9.4],[-60,8.5],[-60.7,7.5],[-61,6.5],[-60.7,5.2],[-61,4.2],[-62.8,4],[-64,4.1],[-63.4,2.3],[-64,1.3],[-65.5,0.8],[-66.9,1.2],[-67.3,2],[-67.8,3.8],[-67.5,6.2],[-70,7],[-72,7.3],[-72.8,9.1],[-72.5,11]],
  [[-78.8,1.4],[-77.5,0.4],[-75.2,-0.1],[-75.6,-1.6],[-78.3,-3.4],[-78.9,-5],[-80.3,-3.4],[-80,-2.5],[-81,-2.2],[-80,0.7]],
  [[-57.9,-20],[-58,-22],[-55.9,-22.3],[-55.4,-24],[-54.3,-24],[-54.6,-25.6],[-56,-27.3],[-58.6,-27.2],[-57.6,-25.4],[-60,-24],[-62.6,-22.2],[-61.7,-19.6],[-59,-19.4]],
  // Estonia, Latvia, Lithuania
  [[23.5,59.2],[28,59.4],[27.5,57.5],[25,58],[24.3,58.3]],
  [[21,57],[21.1,56.1],[26.6,55.7],[28,56.2],[27.5,57.5],[25,58],[24.3,57.2],[22.6,57.7]],
  [[21.1,56.1],[21,55.2],[23,54.3],[25.6,54.2],[26.6,55.7]],
  // Kazakhstan
  [[46.7,48.5],[47,50],[50.8,51.7],[55,50.7],[61,50.8],[61,54],[68,55],[71,54.3],[73.5,54],[77,53.5],[81,51],[83,51],[85.5,49.5],[87.5,49.2],[85.5,47],[83,47],[82.5,45.3],[80.5,45],[80,42.5],[76,43],[71,42.7],[68,41],[66,41.5],[66,43],[61,44.3],[58.5,45.5],[56,45],[56,41.3],[53,41.5],[52.7,42.7],[51,44.5],[53,46.7],[51,47],[49,46.5]],
  // Morocco and Western Sahara
  [[-5.9,35.8],[-2.2,35.1],[-1.7,34.2],[-1.2,32.2],[-3.7,31.6],[-5.5,29.9],[-8.7,28.7],[-8.7,27.3],[-12,26],[-12,23.4],[-13,21.3],[-17,21.3],[-16,23.5],[-14.5,26.2],[-13,27.7],[-10,29.5],[-9.7,31.5],[-7,33.7]],
  // Sudan, Ethiopia, Kenya, Uganda, Tanzania, Malawi, Mozambique, Zimbabwe
  [[25,22],[36.9,22],[37.3,21],[37.2,19],[38.5,18],[36.5,14.3],[36,12.7],[35,10],[33.9,9.5],[33,8.7],[30,9],[27,9],[24,8.7],[23,11],[22.5,13],[24,15.7],[24,20]],
  [[36.5,14.3],[37,14.5],[40,14.5],[41.8,12.9],[43,12.4],[42.8,11],[44,9.1],[48,8],[45,5],[42,4],[39,3.5],[36,4.5],[35,5.5],[34,8],[33.9,9.5],[35,10],[36,12.7]],
  [[34,4.2],[36,4.5],[39,3.5],[41,3.9],[41,-0.8],[41.5,-1.7],[39.2,-4.7],[37.7,-3.6],[34,-1],[34.5,1]],
  [[30.8,3.5],[34,4.2],[34.5,1],[34,-1],[30.5,-1],[29.7,-1.4],[31,2.2]],
  [[30.5,-1],[34,-1],[37.7,-3.6],[39.2,-4.7],[38.8,-6.5],[39.5,-9],[40.4,-10.5],[38,-11.3],[34.9,-11.6],[33,-9.5],[30.8,-8.3],[29.5,-4.4],[30.8,-3.5]],
  [[33,-9.5],[34.9,-11.6],[35,-14],[35.3,-17],[34.4,-16],[33.5,-14.5],[32.8,-13.5]],
  [[34.9,-11.6],[38,-11.3],[40.4,-10.5],[40.7,-15],[37,-17.8],[34.9,-20],[35.4,-24],[32.9,-25.8],[32,-26.8],[32,-24],[32.9,-21],[32.8,-19],[30.3,-16],[30.2,-15],[33,-14.5],[33.5,-14.5],[34.4,-16],[35.3,-17],[35,-14]],
  [[25.3,-17.8],[27,-17.9],[30.3,-15.8],[32.8,-19],[32.9,-21],[31.2,-22.4],[29,-22.2],[27,-21],[26,-18.5]],
  // Cameroon, Burkina Faso
  [[8.5,4.7],[9.7,3.5],[9.8,2.2],[11.3,2.2],[16,1.8],[15,4],[14.5,6.2],[15.5,7.5],[13.9,11],[14.8,12.7],[14.3,13],[13.6,11.7],[12,7.5],[9.8,6]],
  [[-5.5,10.5],[-4.5,11],[-3,13.5],[-1,15],[0.2,14.8],[2.3,12.5],[0.9,11],[-2.8,11],[-2.8,9.8],[-4.5,9.7]],
  // Bangladesh, Cambodia, Philippines
  [[88.2,24.5],[88.5,26.2],[92,25],[91.5,24.2],[92.3,23.7],[92.3,21],[90.5,22.5],[89,22]],
  [[102.5,14],[105.5,14.2],[107.5,14.7],[107,12.5],[105.8,11],[104.8,10.4],[103,11]],
  [[120.6,18.5],[122.2,18.4],[122,16],[124,13],[122.5,13.7],[120.6,14],[120,16]],
  [[122,7],[123.5,8.7],[125.5,9.7],[126.5,7.5],[125.5,5.8],[124,6.7]],
  [[122,11.8],[123,10.5],[125.5,12.5],[125,10.3],[123.5,9.5],[122.5,9.8]],
  [[117.2,8.4],[119.5,11.3],[118.5,9.5]],
  // Mauritius and Reunion area
  [[57.3,-20.1],[57.8,-20.1],[57.5,-20.5]]
];

// water drawn back over land: Lake Maracaibo, Chilean fjords
const water = [
  [[-72,10.6],[-71.1,10.6],[-71.1,9.3],[-72,9.3]],
  [[-74.6,-44],[-73.6,-45],[-74,-46],[-74.6,-45]],
  [[-75,-48],[-74,-49],[-74.3,-50],[-75,-49]],
  [[-74.5,-51],[-73.6,-51.7],[-74,-52.5],[-74.6,-52]],
  [[-72.5,-53.2],[-70.5,-54],[-71,-54.5],[-72.8,-53.8]],
  [[-69.5,-53.6],[-68.8,-54.2],[-69.8,-54.4]]
];

const shades = [shade5, shade4, shade3, shade2, shade1, shade0];
const shadeFills = [shadeColors[5], shadeColors[4], shadeColors[3], shadeColors[2], shadeColors[1], shadeColors[0]];

const width = 1952;
const height = 955;

const svg = d3.select("div#plot")
  .append("svg")
    .attr("width", width)
    .attr("height", height)
    .style("display", "block");

svg.append("rect")
    .attr("width", width)
    .attr("height", height)
    .attr("fill", "white");

// map: plain lon/lat grid, the y axis is a little stretched
const xScale = d3.scaleLinear().domain([-180, 180]).range([431.1, 1899.9]);
const yScale = d3.scaleLinear().domain([90, -90]).range([113.2, 908.8]);
const projection = d3.geoTransform({
  point(lon, lat) { this.stream.point(xScale(lon), yScale(lat)); }
});
const path = d3.geoPath(projection);

const ringFeature = ring => ({type: "Feature", geometry: {type: "Polygon", coordinates: [ring]}});

function drawLand(rings, fill) {
  svg.append("g").selectAll("path")
    .data(rings.map(ringFeature))
    .join("path")
      .attr("d", path)
      .attr("fill", fill)
      .attr("stroke", fill)
      .attr("stroke-width", 0.7)
      .attr("stroke-linejoin", "round");
}

drawLand(greyLand, noArticles);
shades.forEach((rings, i) => drawLand(rings, shadeFills[i]));
drawLand(water, "white");

// map titles and caption
const grey = "#595959";
svg.append("text").attr("x", 1175).attr("y", 41).attr("text-anchor", "middle")
    .attr("font-size", 27.8).attr("font-weight", 700).attr("fill", grey)
    .text("Frequency of scientific production by country");
svg.append("text").attr("x", 1175).attr("y", 78).attr("text-anchor", "middle")
    .attr("font-size", 27.8).attr("font-weight", 700).attr("fill", grey)
    .text("(considering all research collaborations)");
svg.append("text").attr("x", 1196).attr("y", 944).attr("text-anchor", "middle")
    .attr("font-size", 27.9).attr("fill", grey)
    .text("Different shades of blue indicate different productivity rates; dark blue: high productivity; grey; no articles");

// map legend
const legendY = d3.scaleBand().domain(legendLabels).range([569, 720.9]).paddingInner(0.1);
svg.append("text").attr("x", 604).attr("y", 552)
    .attr("font-size", 23.5).attr("fill", grey).text("N. Documents");
svg.append("g").selectAll("rect")
  .data(legendLabels)
  .join("rect")
    .attr("x", 599)
    .attr("y", d => legendY(d))
    .attr("width", 27)
    .attr("height", legendY.bandwidth())
    .attr("fill", (d, i) => legendColors[i]);
svg.append("g").selectAll("text")
  .data(legendLabels)
  .join("text")
    .attr("x", 645)
    .attr("y", d => legendY(d) + legendY.bandwidth() / 2 + 6)
    .attr("font-size", 23)
    .attr("fill", grey)
    .text(d => d);

// left table
const rowY = d3.scaleLinear().domain([0, tableCountries.length - 1]).range([177, 895]);

svg.append("text").attr("x", 199).attr("y", 42).attr("text-anchor", "middle")
    .attr("font-size", 28).attr("font-weight", 700).attr("fill", grey)
    .text("Documents by leading country");
svg.append("text").attr("x", 199).attr("y", 78).attr("text-anchor", "middle")
    .attr("font-size", 28).attr("font-weight", 700).attr("fill", grey)
    .text("( > 40 articles published)");

svg.append("line").attr("x1", 2).attr("x2", 394).attr("y1", 102).attr("y2", 102).attr("stroke", "black").attr("stroke-width", 4.5);
svg.append("line").attr("x1", 2).attr("x2", 394).attr("y1", 147).attr("y2", 147).attr("stroke", "black").attr("stroke-width", 2);
svg.append("line").attr("x1", 2).attr("x2", 394).attr("y1", 904).attr("y2", 904).attr("stroke", "black").attr("stroke-width", 4.5);
svg.append("line").attr("x1", 416).attr("x2", 416).attr("y1", 5).attr("y2", 955).attr("stroke", "#222").attr("stroke-width", 1.5);

svg.append("text").attr("x", 121).attr("y", 135).attr("text-anchor", "middle")
    .attr("font-size", 24).attr("font-weight", 700).attr("fill", "black").text("COUNTRY");
svg.append("text").attr("x", 317).attr("y", 135).attr("text-anchor", "middle")
    .attr("font-size", 24).attr("font-weight", 700).attr("fill", "black").text("N.");

svg.append("g").selectAll("text")
  .data(tableCountries)
  .join("text")
    .attr("x", 121)
    .attr("y", (d, i) => rowY(i))
    .attr("text-anchor", "middle")
    .attr("font-size", 25.6)
    .attr("fill", "black")
    .text(d => d);
svg.append("g").selectAll("text")
  .data(tableCounts)
  .join("text")
    .attr("x", 317)
    .attr("y", (d, i) => rowY(i))
    .attr("text-anchor", "middle")
    .attr("font-size", 25.6)
    .attr("fill", "black")
    .text(d => d);

// orange box round the insurance-funded rows
const orange = "#c0631f";
svg.append("rect")
    .attr("x", 2)
    .attr("y", 152)
    .attr("width", 392)
    .attr("height", rowY(insuranceFundedRows - 1) + 9 - 152)
    .attr("fill", "none")
    .attr("stroke", orange)
    .attr("stroke-width", 4);
svg.append("line").attr("x1", 2).attr("x2", 80).attr("y1", 929).attr("y2", 929).attr("stroke", orange).attr("stroke-width", 4);
svg.append("text").attr("x", 103).attr("y", 937)
    .attr("font-size", 27.2).attr("fill", grey).text("Insurance-funded NHS");
</script>
</body>
</html>
